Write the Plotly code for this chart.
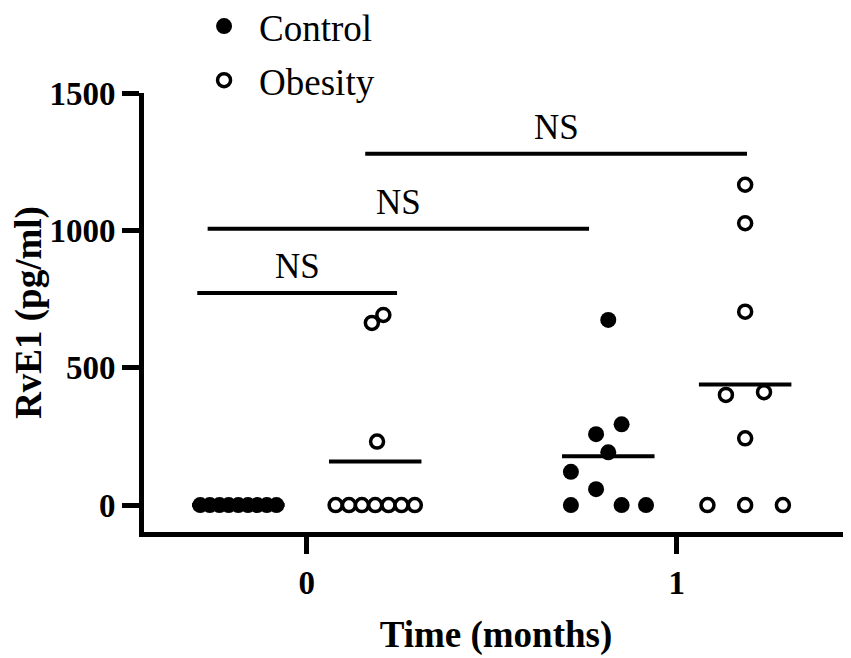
import numpy as np
import plotly.graph_objects as go

# time points (months) and groups
times = [0, 1]
groups = ["Control", "Obesity"]

# RvE1 values (pg/ml)
control_t0 = [0, 0, 0, 0, 0, 0, 0, 0, 0]
obesity_t0 = [0, 0, 0, 0, 0, 0, 0, 231, 663, 692]
control_t1 = [674, 294, 258, 192, 121, 58, 0, 0, 0]
obesity_t1 = [1166, 1026, 704, 411, 401, 243, 0, 0, 0]

# horizontal scatter of the dots inside each column (x units)
control_t0_dx = [-0.103, -0.077, -0.051, -0.026, 0, 0.026, 0.051, 0.077, 0.103]
obesity_t0_dx = [-0.107, -0.071, -0.036, 0, 0.036, 0.071, 0.107, 0.005, -0.009, 0.022]
control_t1_dx = [0, 0.036, -0.033, 0, -0.101, -0.033, -0.101, 0.036, 0.102]
obesity_t1_dx = [0, 0, 0, 0.051, -0.052, 0, -0.102, 0, 0.102]

# significance comparisons: (x start, x end, bar height, label)
comparisons = [
    (-0.296, 0.244, 772, "NS"),
    (-0.268, 0.763, 1006, "NS"),
    (0.158, 1.190, 1279, "NS"),
]

SERIF = "Liberation Serif"
GROUP_SHIFT = {"Control": -0.185, "Obesity": 0.185}
MEAN_HALF = 0.125

data = {
    ("Control", 0): (control_t0, control_t0_dx),
    ("Obesity", 0): (obesity_t0, obesity_t0_dx),
    ("Control", 1): (control_t1, control_t1_dx),
    ("Obesity", 1): (obesity_t1, obesity_t1_dx),
}

fig = go.Figure()

for g in groups:
    xs, ys = [], []
    for t in times:
        vals, dx = data[(g, t)]
        xs += [t + GROUP_SHIFT[g] + d for d in dx]
        ys += vals
    if g == "Control":
        marker = dict(size=16, color="black", line=dict(width=0))
    else:
        marker = dict(size=13, color="white", line=dict(width=3.5, color="black"))
    fig.add_trace(go.Scatter(x=xs, y=ys, mode="markers", name=g, marker=marker,
                             legendgroup=g, cliponaxis=False))

# mean lines
mx, my = [], []
for (g, t), (vals, _) in data.items():
    c = t + GROUP_SHIFT[g]
    m = float(np.mean(vals))
    mx += [c - MEAN_HALF, c + MEAN_HALF, None]
    my += [m, m, None]
fig.add_trace(go.Scatter(x=mx, y=my, mode="lines", line=dict(color="black", width=4),
                         showlegend=False, hoverinfo="skip"))

# significance bars
for x0, x1, h, lab in comparisons:
    fig.add_trace(go.Scatter(x=[x0, x1], y=[h, h], mode="lines",
                             line=dict(color="black", width=4),
                             showlegend=False, hoverinfo="skip"))
    fig.add_annotation(x=(x0 + x1) / 2, y=h, text=lab, showarrow=False,
                       yanchor="bottom", yshift=5,
                       font=dict(family=SERIF, size=35, color="black"))

fig.update_xaxes(
    range=[-0.44, 1.463], tickvals=times, ticktext=[str(t) for t in times],
    showline=True, linewidth=5, linecolor="black", showgrid=False, zeroline=False,
    ticks="outside", ticklen=17, tickwidth=5, tickcolor="black",
    tickfont=dict(family=SERIF, size=33, color="black", weight="bold"),
    title=dict(text="<b>Time (months)</b>", standoff=23,
               font=dict(family=SERIF, size=37, color="black")),
    automargin=False,
)
fig.update_yaxes(
    range=[-98, 1500], tickvals=[0, 500, 1000, 1500],
    showline=True, linewidth=5, linecolor="black", showgrid=False, zeroline=False,
    ticks="outside", ticklen=17, tickwidth=5, tickcolor="black",
    tickfont=dict(family=SERIF, size=33, color="black", weight="bold"),
    title=dict(text="<b>RvE1 (pg/ml)</b>", standoff=17,
               font=dict(family=SERIF, size=37, color="black")),
    automargin=False,
)

# the page body adds an 8px offset, so margins are shifted to compensate
fig.update_layout(
    width=851, height=658,
    margin=dict(l=136, r=11, t=85, b=134, autoexpand=False),
    plot_bgcolor="white", paper_bgcolor="white",
    showlegend=True,
    legend=dict(x=0.064, y=1.222, xanchor="left", yanchor="top",
                font=dict(family=SERIF, size=37, color="black"),
                itemwidth=60, tracegroupgap=3, bgcolor="rgba(0,0,0,0)"),
)

fig.write_html("out.html")
